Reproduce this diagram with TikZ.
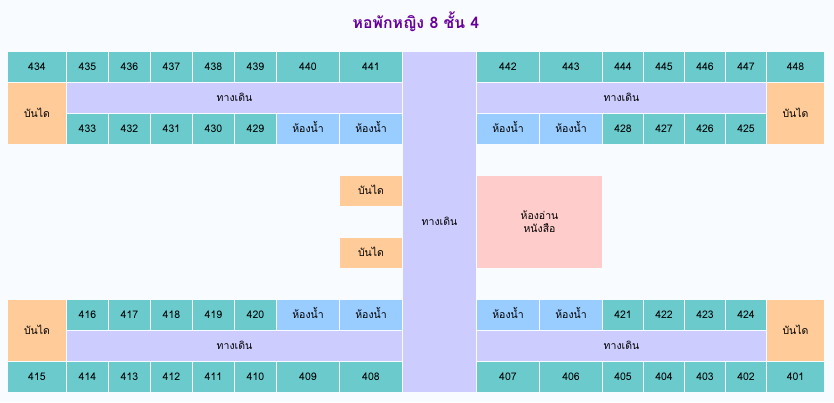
\documentclass[tikz,border=0pt]{standalone}
\usepackage{fontspec}
\setmainfont[Script=Thai]{Loma}
\usetikzlibrary{positioning}
\definecolor{pagebg}{HTML}{F8FBFF}
\definecolor{roomcol}{HTML}{6BCACC}
\definecolor{bathcol}{HTML}{99CCFF}
\definecolor{stairscol}{HTML}{FFCC99}
\definecolor{hallcol}{HTML}{CCCCFF}
\definecolor{readcol}{HTML}{FFCCCC}
\definecolor{titlecol}{HTML}{660099}
\begin{document}
\begin{tikzpicture}[x=1pt,y=1pt]

\tikzset{cell/.style = {rectangle, inner sep=0pt, outer sep=0pt, font=\fontsize{10.5}{13}\selectfont, text centered, text height=7.5pt, text depth=0pt, minimum height=30pt}, }
\tikzset{room/.style = {cell, fill=roomcol, minimum width=41pt}, }
\tikzset{slim/.style = {room, minimum width=40pt}, }
\tikzset{wide/.style = {room, minimum width=62pt}, }
\tikzset{bath/.style = {wide, fill=bathcol}, }
\tikzset{stairs/.style = {cell, fill=stairscol, minimum width=62pt}, }
\tikzset{endstairs/.style = {stairs, minimum height=61pt}, }
\tikzset{hall/.style = {cell, fill=hallcol}, }

\fill[pagebg] (0,0) rectangle (834,402);
\useasboundingbox (0,0) rectangle (834,402);

\node[font=\fontsize{15.8}{19}\selectfont\bfseries, text=titlecol] (title) at (416,380) {หอพักหญิง 8 ชั้น 4};

% top left wing
\node[room, minimum width=58pt, anchor=north west] (R434) at (8,350) {434};
\node[room, right=1pt of R434] (R435) {435};
\node[room, right=1pt of R435] (R436) {436};
\node[room, right=1pt of R436] (R437) {437};
\node[room, right=1pt of R437] (R438) {438};
\node[room, right=1pt of R438] (R439) {439};
\node[wide, right=1pt of R439] (R440) {440};
\node[wide, right=1pt of R440] (R441) {441};
\node[endstairs, minimum width=58pt, below=1pt of R434] (stairsNW) {บันได};
\node[hall, minimum width=335pt, below right=1pt and 0pt of R435.south west] (hallNW) {ทางเดิน};
\node[room, below right=1pt and 0pt of hallNW.south west] (R433) {433};
\node[room, right=1pt of R433] (R432) {432};
\node[room, right=1pt of R432] (R431) {431};
\node[room, right=1pt of R431] (R430) {430};
\node[room, right=1pt of R430] (R429) {429};
\node[bath, right=1pt of R429] (bathNW1) {ห้องน้ำ};
\node[bath, right=1pt of bathNW1] (bathNW2) {ห้องน้ำ};

% centre
\node[hall, minimum width=73pt, minimum height=340pt, below right=0pt and 1pt of R441.north east] (hallC) {ทางเดิน};
\node[stairs, below=32pt of bathNW2] (stairsC1) {บันได};
\node[stairs, below=32pt of stairsC1] (stairsC2) {บันได};

% top right wing
\node[wide, below right=0pt and 1pt of hallC.north east] (R442) {442};
\node[wide, right=1pt of R442] (R443) {443};
\node[slim, right=1pt of R443] (R444) {444};
\node[slim, right=1pt of R444] (R445) {445};
\node[slim, right=1pt of R445] (R446) {446};
\node[slim, right=1pt of R446] (R447) {447};
\node[room, minimum width=57pt, right=1pt of R447] (R448) {448};
\node[hall, minimum width=289pt, below right=1pt and 0pt of R442.south west] (hallNE) {ทางเดิน};
\node[bath, below right=1pt and 0pt of hallNE.south west] (bathNE1) {ห้องน้ำ};
\node[bath, right=1pt of bathNE1] (bathNE2) {ห้องน้ำ};
\node[slim, right=1pt of bathNE2] (R428) {428};
\node[slim, right=1pt of R428] (R427) {427};
\node[slim, right=1pt of R427] (R426) {426};
\node[slim, right=1pt of R426] (R425) {425};
\node[endstairs, minimum width=57pt, below=1pt of R448] (stairsNE) {บันได};
\node[cell, fill=readcol, text height=, text depth=, align=center, minimum width=125pt, minimum height=92pt, below right=32pt and 0pt of bathNE1.south west] (reading) {ห้องอ่าน\\หนังสือ};

% bottom left wing
\node[endstairs, minimum width=58pt, below=156pt of stairsNW] (stairsSW) {บันได};
\node[room, below right=0pt and 1pt of stairsSW.north east] (R416) {416};
\node[room, right=1pt of R416] (R417) {417};
\node[room, right=1pt of R417] (R418) {418};
\node[room, right=1pt of R418] (R419) {419};
\node[room, right=1pt of R419] (R420) {420};
\node[bath, right=1pt of R420] (bathSW1) {ห้องน้ำ};
\node[bath, right=1pt of bathSW1] (bathSW2) {ห้องน้ำ};
\node[hall, minimum width=335pt, below right=1pt and 0pt of R416.south west] (hallSW) {ทางเดิน};
\node[room, minimum width=58pt, below=1pt of stairsSW] (R415) {415};
\node[room, below right=1pt and 0pt of hallSW.south west] (R414) {414};
\node[room, right=1pt of R414] (R413) {413};
\node[room, right=1pt of R413] (R412) {412};
\node[room, right=1pt of R412] (R411) {411};
\node[room, right=1pt of R411] (R410) {410};
\node[wide, right=1pt of R410] (R409) {409};
\node[wide, right=1pt of R409] (R408) {408};

% bottom right wing
\node[bath, below right=32pt and 0pt of reading.south west] (bathSE1) {ห้องน้ำ};
\node[bath, right=1pt of bathSE1] (bathSE2) {ห้องน้ำ};
\node[slim, right=1pt of bathSE2] (R421) {421};
\node[slim, right=1pt of R421] (R422) {422};
\node[slim, right=1pt of R422] (R423) {423};
\node[slim, right=1pt of R423] (R424) {424};
\node[hall, minimum width=289pt, below right=1pt and 0pt of bathSE1.south west] (hallSE) {ทางเดิน};
\node[endstairs, minimum width=57pt, below right=0pt and 1pt of R424.north east] (stairsSE) {บันได};
\node[wide, below right=1pt and 0pt of hallSE.south west] (R407) {407};
\node[wide, right=1pt of R407] (R406) {406};
\node[slim, right=1pt of R406] (R405) {405};
\node[slim, right=1pt of R405] (R404) {404};
\node[slim, right=1pt of R404] (R403) {403};
\node[slim, right=1pt of R403] (R402) {402};
\node[room, minimum width=57pt, right=1pt of R402] (R401) {401};
\end{tikzpicture}
\end{document}
